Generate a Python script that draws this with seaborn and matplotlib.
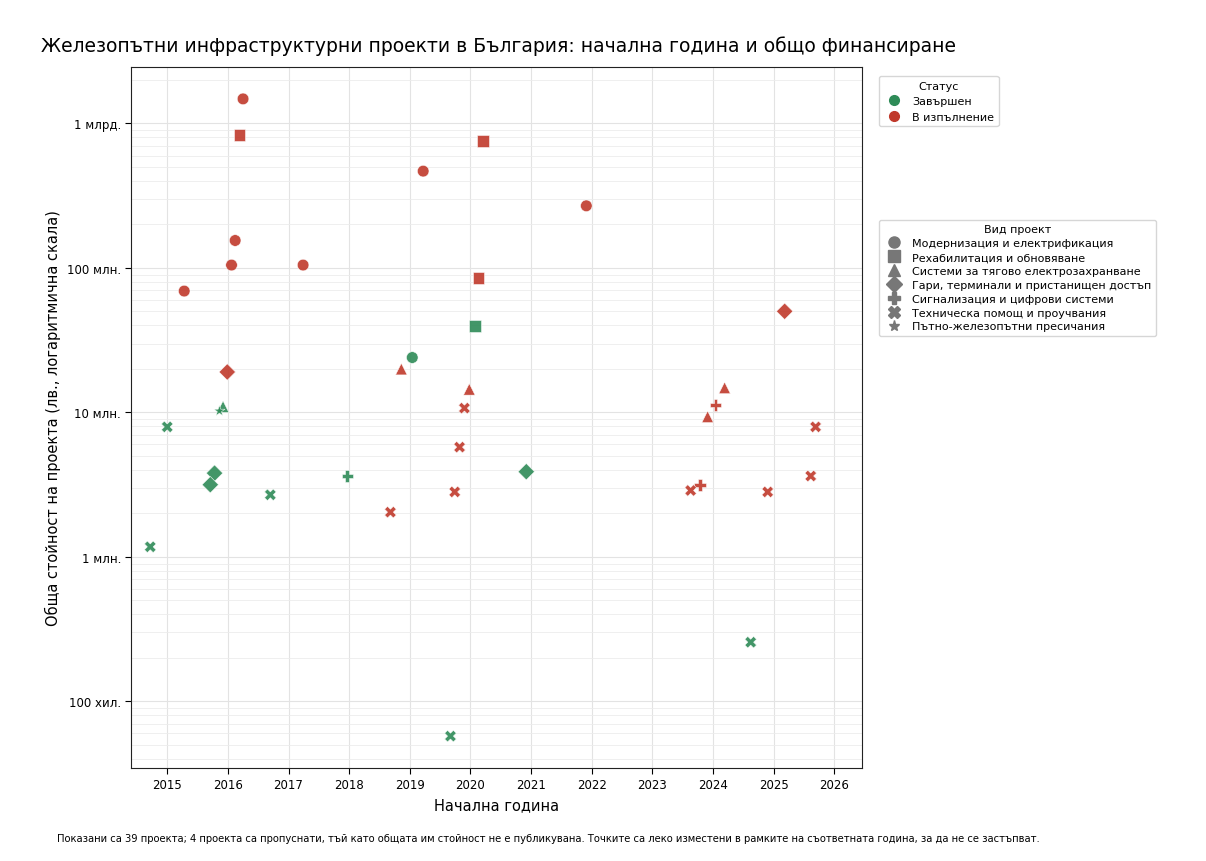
import numpy as np
import pandas as pd
import matplotlib
matplotlib.use("Agg")
import matplotlib.pyplot as plt
import matplotlib.ticker as mticker
from matplotlib.lines import Line2D
import seaborn as sns

# start year (jittered) and log10 of total cost (BGN)
years = [2016.25, 2016.19, 2019.22, 2020.21, 2021.91, 2016.12, 2016.06, 2017.24, 2015.28, 2020.13,
         2020.07, 2019.04, 2025.18, 2015.99, 2018.86, 2019.98, 2019.90, 2019.82, 2019.74, 2018.68,
         2015.92, 2015.86, 2015.00, 2015.78, 2015.71, 2016.70, 2017.97, 2020.92, 2014.72, 2023.91,
         2024.19, 2024.04, 2023.78, 2023.63, 2024.90, 2025.61, 2025.69, 2024.62, 2019.67]
log_cost = [9.17, 8.92, 8.67, 8.88, 8.43, 8.19, 8.02, 8.02, 7.84, 7.93,
            7.60, 7.38, 7.70, 7.28, 7.30, 7.16, 7.03, 6.76, 6.45, 6.31,
            7.04, 7.01, 6.90, 6.58, 6.50, 6.43, 6.56, 6.59, 6.07, 6.97,
            7.17, 7.05, 6.50, 6.46, 6.45, 6.56, 6.90, 5.41, 4.76]
types_idx = [0, 1, 0, 1, 0, 0, 0, 0, 0, 1,
             1, 0, 3, 3, 2, 2, 5, 5, 5, 5,
             2, 6, 5, 3, 3, 5, 4, 3, 5, 2,
             2, 4, 4, 5, 5, 5, 5, 5, 5]
status_idx = [1, 1, 1, 1, 1, 1, 1, 1, 1, 1,
              0, 0, 1, 1, 1, 1, 1, 1, 1, 1,
              0, 0, 0, 0, 0, 0, 0, 0, 0, 1,
              1, 1, 1, 1, 1, 1, 1, 0, 0]

statuses = ["Завършен", "В изпълнение"]
project_types = ["Модернизация и електрификация", "Рехабилитация и обновяване",
                 "Системи за тягово електрозахранване", "Гари, терминали и пристанищен достъп",
                 "Сигнализация и цифрови системи", "Техническа помощ и проучвания",
                 "Пътно-железопътни пресичания"]
markers = ["o", "s", "^", "D", "P", "X", "*"]
colors = {"Завършен": "#2e8b57", "В изпълнение": "#c0392b"}

df = pd.DataFrame({
    "year": years,
    "cost": [10 ** v for v in log_cost],
    "type": [project_types[i] for i in types_idx],
    "status": [statuses[i] for i in status_idx],
})

sns.set_style("white")
plt.rcParams["font.family"] = ["DejaVu Sans"]
plt.rcParams["text.color"] = "black"
plt.rcParams["axes.labelcolor"] = "black"
plt.rcParams["xtick.color"] = "black"
plt.rcParams["ytick.color"] = "black"

fig = plt.figure(figsize=(12.06, 8.62), dpi=100)
ax = fig.add_axes([0.109, 0.108, 0.606, 0.813])

sns.scatterplot(data=df, x="year", y="cost", hue="status", style="type",
                hue_order=statuses, style_order=project_types,
                palette=colors, markers=dict(zip(project_types, markers)),
                s=70, alpha=0.9, edgecolor="white", linewidth=0.4, ax=ax, legend=False)

ax.set_yscale("log")
ax.set_ylim(10 ** 4.54, 10 ** 9.39)
ax.set_xlim(2014.41, 2026.46)
ax.set_xticks(range(2015, 2027))
ax.set_yticks([1e5, 1e6, 1e7, 1e8, 1e9])
ax.set_yticklabels(["100 хил.", "1 млн.", "10 млн.", "100 млн.", "1 млрд."])
ax.yaxis.set_minor_formatter(mticker.NullFormatter())
ax.grid(True, which="major", color="#e3e3e3", linewidth=0.8)
ax.grid(True, which="minor", axis="y", color="#ececec", linewidth=0.6)
ax.tick_params(axis="both", which="major", labelsize=8.5, length=4, left=True, bottom=True)
for sp in ax.spines.values():
    sp.set_color("#222222")

ax.set_xlabel("Начална година", fontsize=10.5)
ax.set_ylabel("Обща стойност на проекта (лв., логаритмична скала)", fontsize=10.5)
fig.text(0.034, 0.94, "Железопътни инфраструктурни проекти в България: начална година и общо финансиране",
         fontsize=13.5)
fig.text(0.047, 0.023, "Показани са 39 проекта; 4 проекта са пропуснати, тъй като общата им стойност не е публикувана. "
         "Точките са леко изместени в рамките на съответната година, за да не се застъпват.", fontsize=7.2)

h1 = [Line2D([], [], marker="o", linestyle="", color=colors[s], markersize=7) for s in statuses]
leg1 = ax.legend(h1, statuses, title="Статус", loc="upper left", bbox_to_anchor=(1.015, 0.995),
                 fontsize=8, title_fontsize=8, frameon=True, handletextpad=0.6)
ax.add_artist(leg1)
h2 = [Line2D([], [], marker=m, linestyle="", color="#777777", markersize=8) for m in markers]
ax.legend(h2, project_types, title="Вид проект", loc="upper left", bbox_to_anchor=(1.015, 0.79),
          fontsize=8, title_fontsize=8, frameon=True, handletextpad=0.6, labelspacing=0.35)

fig.savefig("out.png", dpi=100)
